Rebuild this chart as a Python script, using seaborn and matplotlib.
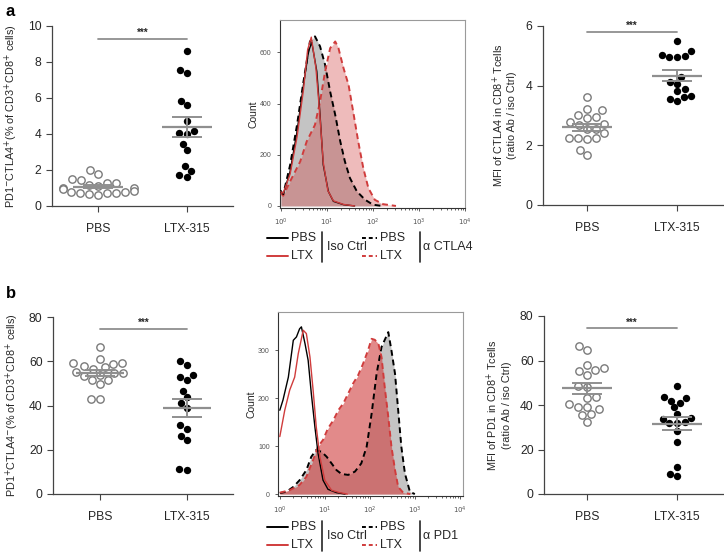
import numpy as np
import pandas as pd
import matplotlib
matplotlib.use("Agg")
import matplotlib.pyplot as plt
from matplotlib.lines import Line2D
from matplotlib.ticker import LogLocator, FixedLocator, FixedFormatter, NullFormatter
import seaborn as sns

groups = ['PBS', 'LTX-315']

# a, left: PD1-CTLA4+ (% of CD3+CD8+ cells)
a_pct_pbs = [2.0, 1.78, 1.5, 1.42, 1.3, 1.28, 1.15, 1.12, 1.02, 1.0, 0.92, 0.85, 0.8, 0.78,
             0.75, 0.7, 0.65, 0.6, 0.72]
a_pct_ltx = [8.6, 7.55, 7.4, 5.85, 5.6, 4.75, 4.15, 4.05, 4.0, 3.45, 3.1, 2.2, 1.95, 1.7, 1.62]

# a, right: MFI of CTLA4 (ratio Ab / iso Ctrl)
a_mfi_pbs = [3.63, 3.22, 3.18, 3.02, 2.94, 2.92, 2.78, 2.70, 2.68, 2.55, 2.55, 2.40, 2.26,
             2.23, 2.22, 2.23, 1.86, 1.68]
a_mfi_ltx = [5.5, 5.15, 5.02, 5.0, 4.95, 4.95, 4.28, 4.13, 4.07, 3.89, 3.82, 3.66, 3.62, 3.56, 3.5]

# b, left: PD1+CTLA4- (% of CD3+CD8+ cells)
b_pct_pbs = [66.3, 60.8, 59.0, 58.8, 59.0, 57.8, 57.2, 56.3, 55.2, 54.8, 54.5, 53.8, 53.2,
             51.5, 51.5, 49.5, 42.8, 42.8]
b_pct_ltx = [60.2, 58.5, 53.7, 53.0, 51.5, 46.5, 43.7, 41.0, 39.0, 31.2, 29.4, 26.4, 24.2, 11.4, 11.0]

# b, right: MFI of PD1 (ratio Ab / iso Ctrl)
b_mfi_pbs = [66.5, 64.7, 58.0, 56.8, 55.7, 55.2, 53.5, 48.4, 48.2, 43.6, 43.3, 40.3, 39.3,
             39.2, 38.0, 35.8, 35.5, 32.2]
b_mfi_ltx = [48.7, 43.4, 43.0, 42.0, 41.0, 39.0, 36.0, 34.3, 33.5, 32.5, 32.0, 31.8, 28.3,
             23.2, 12.0, 9.0, 8.2]

# histograms, x in log10 units, y = count
ha_iso_pbs_x = [0.0, 0.05, 0.2, 0.35, 0.49, 0.6, 0.67, 0.78, 0.85, 0.92, 1.03, 1.14, 1.36, 1.6]
ha_iso_pbs_y = [60, 45, 135, 290, 473, 604, 640, 526, 356, 161, 57, 18, 5, 0]
ha_iso_ltx_x = [0.0, 0.05, 0.2, 0.35, 0.49, 0.58, 0.66, 0.76, 0.84, 0.92, 1.02, 1.14, 1.36, 1.6]
ha_iso_ltx_y = [55, 50, 125, 270, 455, 610, 660, 540, 370, 170, 60, 20, 6, 0]
ha_ab_pbs_x = [0.0, 0.05, 0.2, 0.35, 0.49, 0.63, 0.74, 0.85, 0.96, 1.07, 1.18, 1.29, 1.39,
               1.5, 1.65, 1.83, 2.0, 2.2]
ha_ab_pbs_y = [55, 45, 160, 317, 486, 643, 663, 624, 552, 447, 356, 252, 174, 109, 57, 24, 5, 0]
ha_ab_ltx_x = [0.0, 0.05, 0.2, 0.42, 0.56, 0.74, 0.85, 0.96, 1.07, 1.18, 1.25, 1.36, 1.47,
               1.57, 1.68, 1.79, 1.9, 2.04, 2.22, 2.5]
ha_ab_ltx_y = [50, 40, 96, 174, 252, 317, 408, 526, 617, 643, 617, 539, 473, 369, 252, 148,
               70, 24, 7, 0]

hb_iso_pbs_x = [0.0, 0.07, 0.19, 0.3, 0.37, 0.44, 0.48, 0.56, 0.63, 0.7, 0.78, 0.85, 0.96,
                1.07, 1.26, 1.45]
hb_iso_pbs_y = [175, 196, 244, 321, 328, 345, 349, 314, 279, 210, 140, 85, 29, 10, 3, 0]
hb_iso_ltx_x = [0.0, 0.11, 0.22, 0.33, 0.41, 0.52, 0.59, 0.67, 0.74, 0.81, 0.89, 1.0, 1.15,
                1.33, 1.5]
hb_iso_ltx_y = [120, 175, 217, 244, 293, 342, 335, 286, 217, 140, 78, 29, 8, 3, 0]
hb_ab_pbs_x = [0.0, 0.15, 0.3, 0.44, 0.59, 0.7, 0.81, 0.93, 1.04, 1.15, 1.26, 1.37, 1.52,
               1.67, 1.81, 1.93, 2.04, 2.15, 2.26, 2.41, 2.48, 2.56, 2.63, 2.7, 2.78, 2.89, 3.0]
hb_ab_pbs_y = [2, 5, 15, 29, 50, 78, 92, 88, 78, 64, 50, 42, 40, 47, 64, 99, 168, 251, 307,
               338, 300, 251, 175, 99, 43, 5, 0]
hb_ab_ltx_x = [0.0, 0.22, 0.44, 0.59, 0.74, 0.85, 0.96, 1.07, 1.19, 1.3, 1.41, 1.52, 1.63,
               1.74, 1.85, 1.96, 2.04, 2.11, 2.19, 2.26, 2.33, 2.41, 2.48, 2.56, 2.63, 2.74, 2.9]
hb_ab_ltx_y = [3, 8, 19, 36, 71, 99, 113, 137, 154, 175, 189, 210, 231, 248, 272, 300, 324,
               322, 314, 286, 224, 161, 99, 50, 15, 3, 0]

sns.set_style('ticks')
plt.rcParams['font.family'] = ['Liberation Sans', 'DejaVu Sans']

W, H = 724, 554
fig = plt.figure(figsize=(W / 100, H / 100), dpi=100)

TXT = '#262626'
GREY = '#8f8f8f'
RED = '#d03c3c'


def px_axes(left, top, right, bottom):
    return fig.add_axes([left / W, 1 - bottom / H, (right - left) / W, (bottom - top) / H])


def dot_panel(ax, pbs, ltx, ymax, step, sig_y, ylabel, xlim):
    df = pd.DataFrame({'group': ['PBS'] * len(pbs) + ['LTX-315'] * len(ltx),
                       'value': pbs + ltx})
    sns.swarmplot(data=df[df.group == 'PBS'], x='group', y='value', order=groups, ax=ax,
                  color='white', edgecolor='#7a7a7a', linewidth=1.0, size=5.3, zorder=2)
    sns.swarmplot(data=df[df.group == 'LTX-315'], x='group', y='value', order=groups, ax=ax,
                  color='black', linewidth=0, size=5.3, zorder=2)
    for i, vals in enumerate([pbs, ltx]):
        m = np.mean(vals)
        se = np.std(vals, ddof=1) / np.sqrt(len(vals))
        ax.hlines(m, i - 0.28, i + 0.28, color=GREY, lw=1.6, zorder=3)
        ax.hlines([m - se, m + se], i - 0.17, i + 0.17, color=GREY, lw=1.4, zorder=3)
        ax.vlines(i, m - se, m + se, color=GREY, lw=1.4, zorder=3)
    ax.plot([0, 1], [sig_y, sig_y], color=GREY, lw=1.3, clip_on=False)
    ax.text(0.5, sig_y + ymax * 0.005, '***', ha='center', va='bottom', fontsize=7,
            color=TXT, fontweight='bold')
    ax.set_ylim(0, ymax)
    ax.set_xlim(*xlim)
    ax.set_yticks(np.arange(0, ymax + step / 2, step))
    ax.set_xlabel('')
    ax.set_ylabel(ylabel, fontsize=7.8, color=TXT, labelpad=6)
    sns.despine(ax=ax)
    for s in ['left', 'bottom']:
        ax.spines[s].set_color('#444444')
        ax.spines[s].set_linewidth(0.9)
    ax.tick_params(labelsize=8.7, colors='#444444', labelcolor=TXT, length=4, width=0.8)
    ax.tick_params(axis='x', pad=8)


def hist_panel(ax, iso_pbs, iso_ltx, ab_pbs, ab_ltx, ylim, yticks, red_alpha):
    ax.set_xscale('log')
    bx, by = 10 ** np.array(ab_pbs[0]), ab_pbs[1]
    ax.fill_between(bx, by, 0, color='#c4c4c4', lw=0, zorder=1)
    rx, ry = 10 ** np.array(ab_ltx[0]), ab_ltx[1]
    ax.fill_between(rx, ry, 0, color=RED, alpha=red_alpha, lw=0, zorder=2)
    ax.plot(bx, by, color='black', ls=(0, (3, 2)), lw=1.4, zorder=3)
    ax.plot(rx, ry, color=RED, ls=(0, (3, 2)), lw=1.4, zorder=4)
    ax.plot(10 ** np.array(iso_pbs[0]), iso_pbs[1], color='black', lw=1.0, zorder=5)
    ax.plot(10 ** np.array(iso_ltx[0]), iso_ltx[1], color=RED, lw=1.0, zorder=6)
    ax.set_ylim(*ylim)
    ax.set_yticks(yticks)
    ax.set_yticklabels([str(t) for t in yticks])
    ax.xaxis.set_major_locator(FixedLocator([1, 10, 100, 1000, 10000]))
    ax.xaxis.set_major_formatter(FixedFormatter(['$10^0$', '$10^1$', '$10^2$', '$10^3$', '$10^4$']))
    ax.xaxis.set_minor_locator(LogLocator(base=10, subs=np.arange(2, 10)))
    ax.xaxis.set_minor_formatter(NullFormatter())
    ax.tick_params(labelsize=5, colors='#444444', labelcolor='#555555', length=2.5, width=0.6)
    ax.tick_params(axis='x', which='minor', length=1.5, width=0.5)
    ax.set_ylabel('Count', fontsize=7.5, color=TXT, labelpad=1)
    for s in ['top', 'right']:
        ax.spines[s].set_color('#9a9a9a')
    for s in ['left', 'bottom']:
        ax.spines[s].set_color('#333333')
    for s in ax.spines.values():
        s.set_linewidth(0.8)


def legend_block(y1, ab_label):
    y2 = y1 + 18
    yc = (y1 + y2) / 2
    def seg(x0, x1, y, color, ls):
        fig.add_artist(Line2D([x0 / W, x1 / W], [1 - y / H, 1 - y / H], color=color, ls=ls,
                              lw=1.4, transform=fig.transFigure))
    def txt(x, y, s, ha='left'):
        fig.text(x / W, 1 - y / H, s, ha=ha, va='center', fontsize=9, color=TXT)
    seg(267, 288, y1, 'black', '-')
    seg(267, 288, y2, RED, '-')
    txt(291, y1, 'PBS')
    txt(291, y2, 'LTX')
    fig.add_artist(Line2D([322 / W, 322 / W], [1 - (y1 - 6) / H, 1 - (y2 + 6) / H],
                          color=TXT, lw=1.2, transform=fig.transFigure))
    txt(327, yc, 'Iso Ctrl')
    seg(362, 377, y1, 'black', (0, (2, 1.5)))
    seg(362, 377, y2, RED, (0, (2, 1.5)))
    txt(380, y1, 'PBS')
    txt(380, y2, 'LTX')
    fig.add_artist(Line2D([420 / W, 420 / W], [1 - (y1 - 6) / H, 1 - (y2 + 6) / H],
                          color=TXT, lw=1.2, transform=fig.transFigure))
    txt(423, yc, ab_label)


# panel a
ax1 = px_axes(52, 26, 233, 206)
dot_panel(ax1, a_pct_pbs, a_pct_ltx, 10, 2, 9.3,
          'PD1$^{-}$CTLA4$^{+}$(% of CD3$^{+}$CD8$^{+}$ cells)', (-0.52, 1.52))

ax2 = px_axes(280, 20, 465, 208)
hist_panel(ax2, (ha_iso_pbs_x, ha_iso_pbs_y), (ha_iso_ltx_x, ha_iso_ltx_y),
           (ha_ab_pbs_x, ha_ab_pbs_y), (ha_ab_ltx_x, ha_ab_ltx_y),
           (-8, 727), [0, 200, 400, 600], 0.35)
ax2.set_xlim(10 ** -0.02, 10 ** 4.0)
legend_block(238, 'α CTLA4')

ax3 = px_axes(543, 26, 723, 205)
dot_panel(ax3, a_mfi_pbs, a_mfi_ltx, 6, 2, 5.8,
          'MFI of CTLA4 in CD8$^{+}$ Tcells\n(ratio Ab / iso Ctrl)', (-0.49, 1.51))

# panel b
ax4 = px_axes(53, 317, 233, 494)
dot_panel(ax4, b_pct_pbs, b_pct_ltx, 80, 20, 74.8,
          'PD1$^{+}$CTLA4$^{-}$(% of CD3$^{+}$CD8$^{+}$ cells)', (-0.54, 1.53))

ax5 = px_axes(278, 312, 463, 496)
hist_panel(ax5, (hb_iso_pbs_x, hb_iso_pbs_y), (hb_iso_ltx_x, hb_iso_ltx_y),
           (hb_ab_pbs_x, hb_ab_pbs_y), (hb_ab_ltx_x, hb_ab_ltx_y),
           (-4, 380), [0, 100, 200, 300], 0.6)
ax5.set_xlim(10 ** -0.04, 10 ** 4.07)
legend_block(527, 'α PD1')

ax6 = px_axes(544, 316, 723, 494)
dot_panel(ax6, b_mfi_pbs, b_mfi_ltx, 80, 20, 74.5,
          'MFI of PD1 in CD8$^{+}$ Tcells\n(ratio Ab / iso Ctrl)', (-0.48, 1.51))

fig.text(6 / W, 1 - 11 / H, 'a', fontsize=12, fontweight='bold', va='center', color='black')
fig.text(6 / W, 1 - 293 / H, 'b', fontsize=12, fontweight='bold', va='center', color='black')

fig.savefig('out.png', dpi=100)
